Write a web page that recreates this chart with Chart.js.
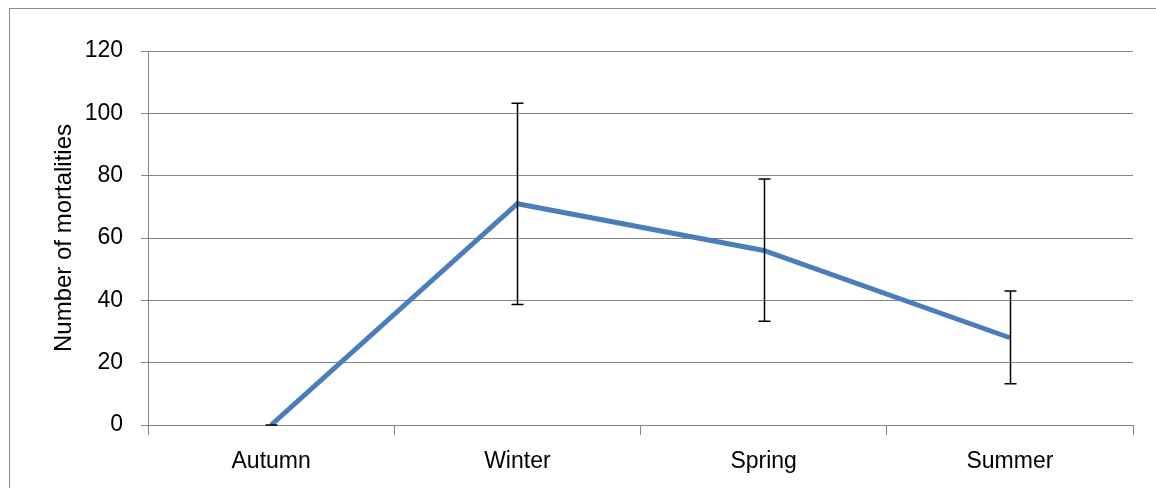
<!DOCTYPE html>
<html>
<head>
<meta charset="utf-8">
<script src="https://cdn.jsdelivr.net/npm/chart.js@4.4.0/dist/chart.umd.min.js"></script>
<style>
  html, body { margin: 0; padding: 0; background: #fff; }
  #wrap { width: 1156px; height: 488px; position: relative; }
</style>
</head>
<body>
<div id="wrap"><canvas id="chart" width="1156" height="488"></canvas></div>
<script>
const seasons = ['Autumn', 'Winter', 'Spring', 'Summer'];
const mortalities = [0, 71, 56, 28];
const errLow = [0, 38.7, 33.3, 13.2];
const errHigh = [0, 103.2, 78.9, 43];
const yTicks = [0, 20, 40, 60, 80, 100, 120];

const gridGray = '#868686';

// bordure grise autour du graphique
const frame = {
  id: 'frame',
  beforeDraw(chart) {
    const ctx = chart.ctx;
    ctx.save();
    ctx.strokeStyle = '#8c8c8c';
    ctx.lineWidth = 1;
    ctx.strokeRect(9.5, 8.5, 1160, 500);
    ctx.restore();
  }
};

// barres d'erreur
const errorBars = {
  id: 'errorBars',
  afterDatasetsDraw(chart) {
    const ctx = chart.ctx;
    const x = chart.scales.x, y = chart.scales.y;
    ctx.save();
    ctx.strokeStyle = '#000';
    ctx.lineWidth = 1.5;
    seasons.forEach((s, i) => {
      const px = Math.round(x.getPixelForValue(i)) + 0.5;
      const top = y.getPixelForValue(errHigh[i]);
      const bot = y.getPixelForValue(errLow[i]);
      ctx.beginPath();
      ctx.moveTo(px, top); ctx.lineTo(px, bot);
      ctx.moveTo(px - 6, top); ctx.lineTo(px + 6, top);
      ctx.moveTo(px - 6, bot); ctx.lineTo(px + 6, bot);
      ctx.stroke();
    });
    ctx.restore();
  }
};

new Chart(document.getElementById('chart'), {
  type: 'line',
  data: {
    labels: seasons,
    datasets: [{
      data: mortalities,
      borderColor: '#4a7ebb',
      borderWidth: 5,
      pointRadius: 0,
      tension: 0,
      fill: false
    }]
  },
  options: {
    responsive: false,
    animation: false,
    layout: { padding: { top: 51, right: 23, left: 0, bottom: 0 } },
    plugins: { legend: { display: false }, tooltip: { enabled: false } },
    scales: {
      x: {
        offset: true,
        grid: { offset: true, drawOnChartArea: false, drawTicks: true, tickLength: 10, color: gridGray },
        border: { display: true, color: gridGray },
        ticks: { color: '#000', font: { family: 'Liberation Sans', size: 23 }, padding: 13 },
        afterFit: s => { s.height = 63; }
      },
      y: {
        min: 0, max: 120,
        afterBuildTicks: s => { s.ticks = yTicks.map(v => ({ value: v })); },
        grid: { color: gridGray, tickLength: 7 },
        border: { display: true, color: gridGray },
        ticks: { color: '#000', font: { family: 'Liberation Sans', size: 23 }, padding: 18 },
        title: {
          display: true, text: 'Number of mortalities', color: '#000',
          font: { family: 'Liberation Sans', size: 24 }, padding: { top: 50, bottom: 0 }
        },
        afterFit: s => { s.width = 148; }
      }
    }
  },
  plugins: [frame, errorBars]
});
</script>
</body>
</html>
